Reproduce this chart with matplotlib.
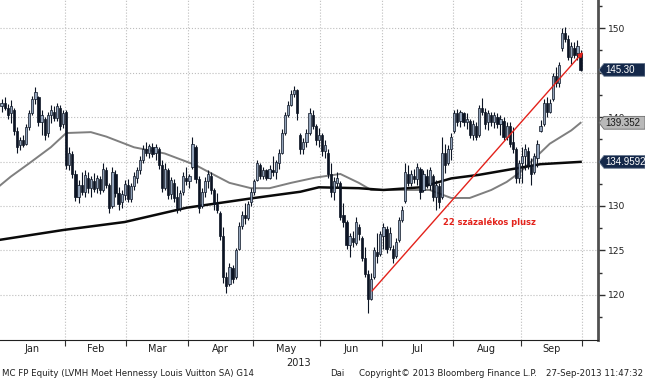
import numpy as np
import matplotlib.pyplot as plt
from matplotlib.patches import Polygon
from matplotlib.transforms import blended_transform_factory

# LVMH (MC FP) napi árfolyam 2013 jan - szept 27
months = ['Jan', 'Feb', 'Mar', 'Apr', 'May', 'Jun', 'Jul', 'Aug', 'Sep']
days_in_month = [21, 20, 20, 21, 22, 20, 23, 22, 20]

opens = (
    [141.2, 141.6, 141.0, 140.4, 140.8, 138.4, 136.8, 137.4, 137.0, 138.9, 140.4, 142.0, 142.2, 139.4, 139.8, 138.2, 140.2, 140.6, 139.9, 141.0, 139.2]
    + [140.6, 134.6, 135.8, 133.6, 131.0, 132.4, 131.6, 133.2, 132.0, 132.8, 132.0, 133.0, 131.8, 134.0, 132.4, 130.0, 133.6, 131.5, 130.4, 131.2]
    + [132.4, 130.8, 132.3, 133.2, 134.0, 135.2, 136.4, 136.0, 136.6, 135.9, 136.4, 134.6, 132.0, 134.0, 131.4, 132.6, 131.0, 129.8, 131.6, 133.2]
    + [132.8, 134.4, 136.6, 133.0, 130.0, 131.6, 132.8, 133.4, 131.8, 130.2, 129.2, 126.6, 122.0, 121.2, 123.0, 122.0, 125.2, 127.8, 129.0, 128.6, 130.4]
    + [131.6, 132.9, 134.6, 133.4, 134.0, 133.2, 134.0, 133.8, 134.8, 136.0, 138.2, 140.2, 141.4, 142.6, 143.0, 138.0, 136.4, 137.2, 138.2, 140.2, 139.0, 137.4]
    + [138.0, 136.2, 136.0, 133.6, 131.6, 132.6, 132.6, 129.0, 128.2, 125.6, 126.4, 125.8, 127.6, 126.4, 124.2, 122.4, 119.6, 122.0, 124.8, 124.6]
    + [126.6, 127.4, 125.4, 125.2, 124.4, 126.2, 128.4, 130.6, 133.6, 132.6, 133.4, 133.0, 134.2, 131.8, 133.4, 132.4, 133.4, 131.0, 132.2, 131.0, 136.0, 134.8, 136.4]
    + [138.4, 140.4, 139.6, 140.4, 139.4, 139.6, 138.0, 139.0, 138.0, 141.0, 140.6, 139.4, 140.2, 139.4, 140.0, 139.2, 139.6, 137.8, 139.0, 137.2, 136.4, 133.2]
    + [134.8, 135.6, 136.2, 134.6, 133.8, 135.4, 138.4, 139.2, 141.6, 140.6, 142.0, 144.6, 143.8, 147.8, 149.4, 148.8, 146.8, 147.8, 147.2, 147.2]
)
highs = (
    [142.0, 142.2, 141.5, 141.9, 141.0, 138.9, 137.8, 138.0, 139.2, 140.8, 142.4, 143.4, 142.4, 140.8, 140.0, 140.6, 141.3, 141.2, 141.6, 141.4, 140.8]
    + [140.8, 136.6, 136.2, 134.0, 132.9, 133.8, 134.0, 133.8, 133.4, 133.7, 133.5, 133.4, 134.8, 134.4, 132.6, 134.4, 134.0, 132.1, 131.8, 132.9]
    + [133.0, 132.6, 133.8, 134.4, 135.6, 136.8, 137.2, 137.0, 137.1, 137.0, 136.6, 135.2, 134.8, 134.3, 133.3, 133.0, 132.2, 131.8, 133.8, 134.4]
    + [133.6, 137.8, 136.8, 133.4, 132.0, 133.3, 134.0, 133.8, 132.0, 131.5, 129.4, 127.6, 122.6, 123.6, 123.4, 125.3, 128.2, 129.4, 130.3, 130.6, 132.0]
    + [133.0, 135.2, 134.8, 134.4, 134.2, 134.6, 135.6, 135.2, 136.4, 138.6, 140.6, 141.8, 143.0, 143.5, 143.2, 138.2, 137.6, 138.6, 141.0, 140.8, 139.2, 138.8]
    + [138.2, 137.4, 136.4, 134.8, 133.3, 133.8, 132.8, 130.3, 128.4, 127.0, 127.2, 128.8, 128.0, 126.6, 125.4, 122.8, 122.5, 125.4, 127.0, 127.2]
    + [128.1, 127.8, 127.6, 125.6, 126.4, 128.8, 130.0, 134.8, 134.6, 134.0, 134.2, 134.8, 134.4, 134.0, 134.2, 134.4, 133.6, 132.9, 132.6, 137.8, 137.0, 136.8, 138.2]
    + [140.8, 140.9, 140.8, 140.6, 140.4, 139.8, 139.7, 139.4, 141.4, 142.1, 141.0, 140.8, 140.6, 140.6, 140.4, 140.2, 140.0, 139.4, 139.4, 138.9, 136.6, 135.2]
    + [136.6, 137.0, 136.6, 135.4, 136.0, 137.4, 139.7, 142.0, 142.2, 142.0, 145.0, 145.6, 146.2, 150.0, 150.1, 149.2, 148.4, 148.4, 148.6, 147.5]
)
lows = (
    [140.6, 140.8, 139.8, 139.3, 138.0, 136.0, 136.3, 136.6, 136.8, 138.5, 140.2, 141.5, 139.0, 138.0, 137.4, 137.8, 139.3, 139.5, 139.5, 138.5, 138.8]
    + [134.2, 134.0, 133.2, 130.6, 130.3, 131.2, 131.0, 131.5, 131.0, 131.6, 131.5, 131.4, 131.6, 132.0, 129.2, 129.8, 131.0, 129.6, 129.8, 130.7]
    + [130.4, 130.5, 131.8, 132.6, 133.6, 134.8, 135.6, 135.4, 135.5, 135.2, 134.2, 131.6, 131.8, 130.8, 130.8, 130.4, 129.2, 129.4, 131.2, 132.4]
    + [132.0, 134.2, 132.6, 129.2, 129.8, 131.0, 132.0, 131.4, 129.6, 129.2, 126.2, 121.4, 120.2, 121.0, 121.4, 121.8, 125.0, 127.4, 128.0, 128.4, 130.0]
    + [131.2, 132.8, 133.0, 133.0, 132.9, 133.0, 133.4, 133.0, 134.2, 135.8, 138.0, 140.0, 141.2, 142.2, 139.7, 135.8, 135.8, 136.6, 138.0, 138.6, 136.8, 136.6]
    + [135.6, 135.4, 133.2, 131.0, 130.7, 132.0, 128.4, 127.6, 125.2, 124.3, 125.4, 125.6, 126.2, 123.8, 122.0, 118.0, 119.4, 121.8, 123.6, 124.4]
    + [125.2, 124.7, 125.0, 123.6, 124.2, 126.0, 128.2, 130.3, 132.2, 132.2, 132.6, 132.4, 130.8, 131.6, 132.0, 131.8, 130.6, 129.6, 129.8, 130.8, 133.7, 134.6, 135.2]
    + [138.2, 139.0, 138.9, 139.0, 138.6, 137.6, 137.4, 137.4, 137.8, 140.2, 138.6, 138.5, 139.0, 138.8, 138.8, 138.0, 137.4, 137.4, 136.6, 136.0, 132.6, 132.6]
    + [132.6, 134.0, 134.2, 132.4, 133.6, 134.4, 138.3, 139.0, 140.0, 140.4, 141.8, 143.4, 143.4, 147.4, 148.4, 146.4, 146.0, 146.6, 146.4, 145.2]
)
closes = (
    [141.6, 141.0, 140.2, 141.2, 138.4, 136.6, 137.4, 136.9, 138.9, 140.4, 142.0, 142.8, 139.4, 140.2, 138.0, 140.2, 140.8, 139.9, 141.2, 139.0, 140.5]
    + [134.6, 136.0, 133.6, 131.0, 132.4, 131.6, 133.5, 132.0, 133.0, 131.9, 133.2, 131.8, 134.2, 132.4, 129.8, 133.8, 131.5, 130.2, 131.4, 132.5]
    + [130.8, 132.3, 133.4, 134.0, 135.2, 136.4, 136.0, 136.7, 135.8, 136.6, 134.6, 132.0, 134.2, 131.2, 132.9, 130.9, 129.8, 131.5, 133.4, 132.8]
    + [133.4, 137.0, 133.0, 129.8, 131.6, 132.8, 133.6, 131.8, 130.2, 129.6, 126.6, 122.0, 121.0, 123.2, 121.8, 125.0, 127.8, 129.0, 128.6, 130.2, 131.6]
    + [132.8, 134.8, 133.4, 134.0, 133.2, 134.2, 133.8, 134.9, 136.0, 138.2, 140.2, 141.4, 142.6, 143.0, 140.4, 136.4, 137.2, 138.2, 140.4, 139.0, 137.4, 138.0]
    + [136.2, 136.8, 133.6, 131.6, 132.8, 133.2, 128.8, 128.2, 125.6, 126.6, 126.0, 128.2, 126.8, 124.2, 122.4, 119.6, 121.8, 125.0, 124.4, 126.8]
    + [127.6, 125.2, 127.0, 124.2, 126.0, 128.4, 129.6, 133.8, 132.6, 133.6, 133.0, 134.4, 131.6, 133.6, 132.4, 134.0, 131.0, 132.4, 130.4, 136.0, 134.6, 136.4, 137.8]
    + [140.4, 139.4, 140.6, 139.4, 139.8, 138.0, 139.2, 137.8, 141.0, 140.6, 139.2, 140.4, 139.4, 140.2, 139.2, 139.8, 137.8, 139.0, 137.0, 136.4, 133.2, 134.8]
    + [135.6, 136.4, 134.6, 133.6, 135.6, 137.0, 139.0, 141.6, 140.6, 141.6, 144.6, 143.8, 145.8, 149.4, 148.8, 146.8, 148.0, 147.0, 148.0, 145.3]
)

# mozgóátlagok (leolvasott pontok, kereskedési nap index szerint)
ma50_day = [-0.5, 3, 9, 16, 21, 29, 34, 43, 53, 63, 69, 74, 81, 87, 94, 102, 110, 116, 120, 129, 139, 146, 152, 159, 164, 168, 172, 178, 185, 188]
ma50_val = [132.3, 133.3, 134.8, 136.6, 138.2, 138.3, 137.8, 136.6, 135.9, 134.6, 133.5, 132.6, 132.0, 132.0, 132.6, 133.2, 133.6, 132.6, 131.8, 131.8,
            131.8, 130.9, 130.9, 131.8, 132.7, 133.7, 135.0, 137.0, 138.5, 139.35]
ma200_day = [-0.5, 20, 40, 60, 82, 97, 103, 116, 124, 136, 146, 155, 165, 175, 188]
ma200_val = [126.2, 127.3, 128.2, 129.8, 130.9, 131.6, 132.1, 132.0, 131.8, 132.1, 133.1, 133.5, 134.1, 134.7, 134.96]

# jobb oldali címkék
tag_values = [145.30, 139.352, 134.9592]
tag_texts = ['145.30', '139.352', '134.9592']
tag_face = ['#14284a', '#b9b9b9', '#14284a']
tag_edge = ['#6a7a90', '#6a6a6a', '#6a7a90']
tag_color = ['white', '#1a1a1a', 'white']

# trendvonal (júniusi mélypont -> szeptember)
trend_start = (120.3, 120.45)
trend_end = (188.8, 147.3)
trend_label = '22 százalékos plusz'
trend_label_pos = (143.3, 128.2)

# ---------------------------------------------------------------
o = np.array(opens); h = np.array(highs); l = np.array(lows); c = np.array(closes)
idx = np.arange(len(c))

W, H = 645, 380
fig = plt.figure(figsize=(W / 100, H / 100), dpi=100)
ax = fig.add_axes([0, 40 / H, 598 / W, 340 / H])

up = c >= o
body_bot = np.minimum(o, c)
body_h = np.maximum(np.abs(c - o), 0.12)
ax.vlines(idx, l, h, color='#0c1424', linewidth=0.8, zorder=3)
ax.bar(idx, body_h, bottom=body_bot, width=0.72,
       color=np.where(up, '#93a3ba', '#0c1424'), edgecolor='#0c1424',
       linewidth=0.5, zorder=4)

ax.plot(ma50_day, ma50_val, color='#7f7f7f', linewidth=1.4, zorder=2)
ax.plot(ma200_day, ma200_val, color='#0a0a0a', linewidth=1.8, zorder=2)

ax.annotate('', xy=trend_end, xytext=trend_start,
            arrowprops=dict(arrowstyle='-|>', color='#e3221b', lw=1.0,
                            mutation_scale=7, shrinkA=0, shrinkB=0), zorder=5)
ax.text(trend_label_pos[0], trend_label_pos[1], trend_label, color='#e3221b',
        fontsize=6.0, fontweight='bold', ha='left', va='center')

# tengelyek
bounds = np.cumsum(days_in_month) - 0.5
centers = bounds - np.array(days_in_month) / 2
ax.set_xlim(-0.5, 598 / 3.08 - 0.5)
ax.set_ylim(114.94, 153.15)

ax.set_xticks(bounds)
ax.set_xticklabels([])
ax.set_xticks(centers, minor=True)
ax.set_xticklabels(months, minor=True)
ax.tick_params(axis='x', which='major', direction='out', length=4, color='#303030')
ax.tick_params(axis='x', which='minor', length=0, labelsize=7, pad=3, labelcolor='#202020')

ax.yaxis.tick_right()
yt = np.arange(120, 151, 5)
ax.set_yticks(yt)
# a 135 és 145 felirat a címkék alatt van, nem látszik
ax.set_yticklabels(['' if v in (135, 145) else str(v) for v in yt])
ax.set_yticks(np.arange(117.5, 153, 5), minor=True)
ax.tick_params(axis='y', which='major', direction='out', length=5, width=1,
               labelsize=6.6, pad=2, color='#303030', labelcolor='#202020')
ax.tick_params(axis='y', which='minor', direction='out', length=3, width=1, color='#303030')

ax.grid(True, which='major', linestyle=':', color='#bdbdbd', linewidth=0.8)
ax.set_axisbelow(True)
for s in ['left', 'top']:
    ax.spines[s].set_visible(False)
ax.spines['right'].set_color('#505050')
ax.spines['right'].set_linewidth(2)
ax.spines['bottom'].set_color('#202020')

# árcímkék a jobb tengelyen (hegyes bal oldalú címke)
tr = blended_transform_factory(fig.transFigure, ax.transData)
half = 6.4 / 340 * (153.15 - 114.94)
for v, t, fc, ec, tc in zip(tag_values, tag_texts, tag_face, tag_edge, tag_color):
    pts = [(599 / W, v), (604 / W, v + half), (1.0, v + half),
           (1.0, v - half), (604 / W, v - half)]
    fig.patches.append(Polygon(pts, closed=True, transform=tr, fc=fc, ec=ec,
                               lw=0.6, zorder=10))
    fig.text(605 / W, v, t, transform=tr, ha='left', va='center',
             fontsize=7.0, family='Liberation Sans', color=tc, zorder=11)

fig.text(299 / W, 1 - 363 / H, '2013', fontsize=7, ha='center', va='center', color='#202020')
fig.text(2 / W, 7 / H, 'MC FP Equity (LVMH Moet Hennessy Louis Vuitton SA) G14',
         fontsize=6.2, va='center', color='#202020')
fig.text(330 / W, 7 / H, 'Dai', fontsize=6.2, va='center', color='#202020')
fig.text(359 / W, 7 / H, 'Copyright© 2013 Bloomberg Finance L.P.', fontsize=6.2,
         va='center', color='#202020')
fig.text(643 / W, 7 / H, '27-Sep-2013 11:47:32', fontsize=6.2, ha='right',
         va='center', color='#202020')

fig.savefig('out.png', dpi=100)
